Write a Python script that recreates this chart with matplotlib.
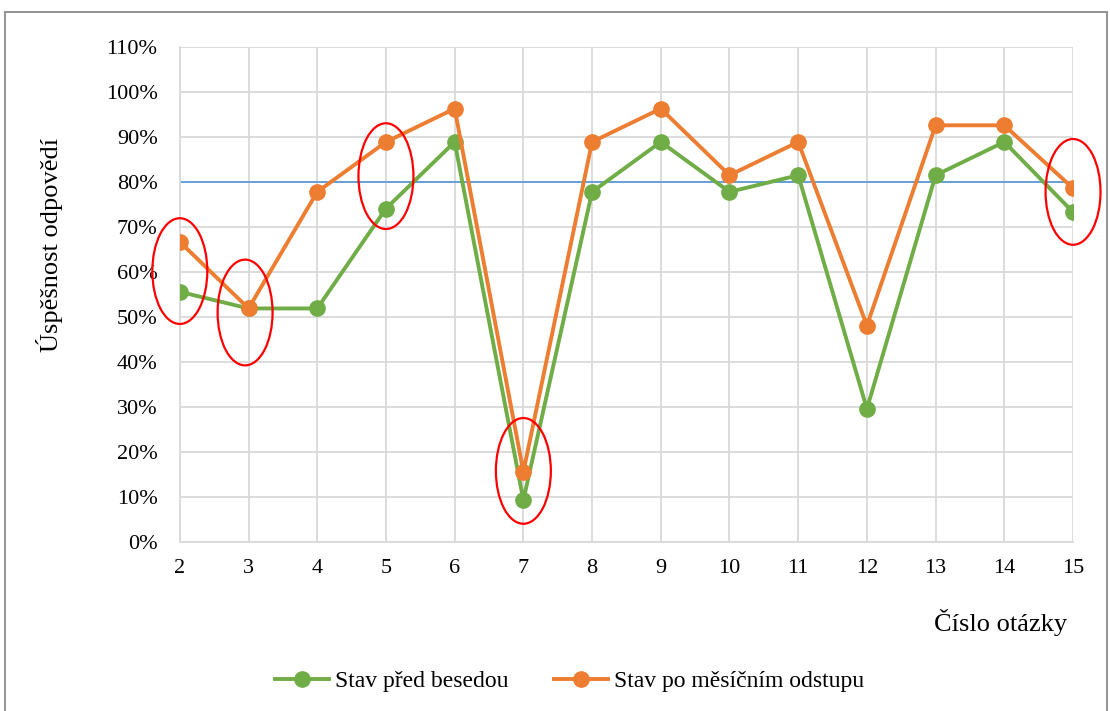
import matplotlib.pyplot as plt
from matplotlib.patches import Ellipse, Rectangle

plt.rcParams['font.family'] = ['Liberation Serif', 'DejaVu Serif']

otazky = [2, 3, 4, 5, 6, 7, 8, 9, 10, 11, 12, 13, 14, 15]
pred_besedou = [55.6, 51.9, 51.9, 74.1, 88.9, 9.3, 77.8, 88.9, 77.8, 81.5, 29.6, 81.5, 88.9, 73.3]
po_odstupu = [66.7, 51.9, 77.8, 88.9, 96.3, 15.6, 88.9, 96.3, 81.5, 88.9, 48.1, 92.6, 92.6, 78.6]
hranice = 80
# (x, y) of the red highlight ellipses
zvyrazneni = [(2, 60.2), (2.95, 51.0), (5, 81.3), (7, 15.8), (15, 77.8)]

fig = plt.figure(figsize=(11.1, 7.11), dpi=100)
ax = fig.add_axes([0.162, 0.2377, 0.8047, 0.6962])

green = '#70AD47'
orange = '#ED7D31'
l_w = 2.8
m_s = 11

ax.axhline(hranice, color='#5B9BD5', linewidth=1.3, zorder=2)
ax.plot(otazky, pred_besedou, color=green, marker='o', label='Stav před besedou',
        linewidth=l_w, markersize=m_s, zorder=3)
ax.plot(otazky, po_odstupu, color=orange, marker='o', label='Stav po měsíčním odstupu',
        linewidth=l_w, markersize=m_s, zorder=4)

for (ex, ey) in zvyrazneni:
    e = Ellipse((ex, ey), width=0.8, height=23.5, fill=False, edgecolor='red',
                linewidth=1.6, zorder=5, clip_on=False)
    ax.add_patch(e)

ax.set_xlim(2, 15)
ax.set_ylim(0, 110)
ax.set_xticks(otazky)
ax.set_yticks(range(0, 111, 10))
ax.set_yticklabels([f'{v}%' for v in range(0, 111, 10)])
ax.grid(True, color='#d9d9d9', linewidth=1.3)
ax.set_axisbelow(True)
for s in ['top', 'right']:
    ax.spines[s].set_visible(False)
for s in ['left', 'bottom']:
    ax.spines[s].set_color('#d9d9d9')
    ax.spines[s].set_linewidth(1.3)
ax.tick_params(axis='y', length=0, labelsize=16, pad=16)
ax.tick_params(axis='x', length=0, labelsize=16, pad=12)

fig.text(0.045, 0.655, 'Úspěšnost odpovědí', fontsize=19, rotation=90,
         ha='center', va='center')
fig.text(0.961, 0.125, 'Číslo otázky', fontsize=19, ha='right', va='center')

fig.legend(loc='center', bbox_to_anchor=(0.513, 0.042), ncol=2, frameon=False,
           fontsize=17, handlelength=2.3, columnspacing=1.9, handletextpad=0.25)

fig.patches.append(Rectangle((0.0045, -0.01), 0.993, 0.993, transform=fig.transFigure,
                             fill=False, edgecolor='#808080', linewidth=1.2))

plt.savefig('out.png', dpi=100)
